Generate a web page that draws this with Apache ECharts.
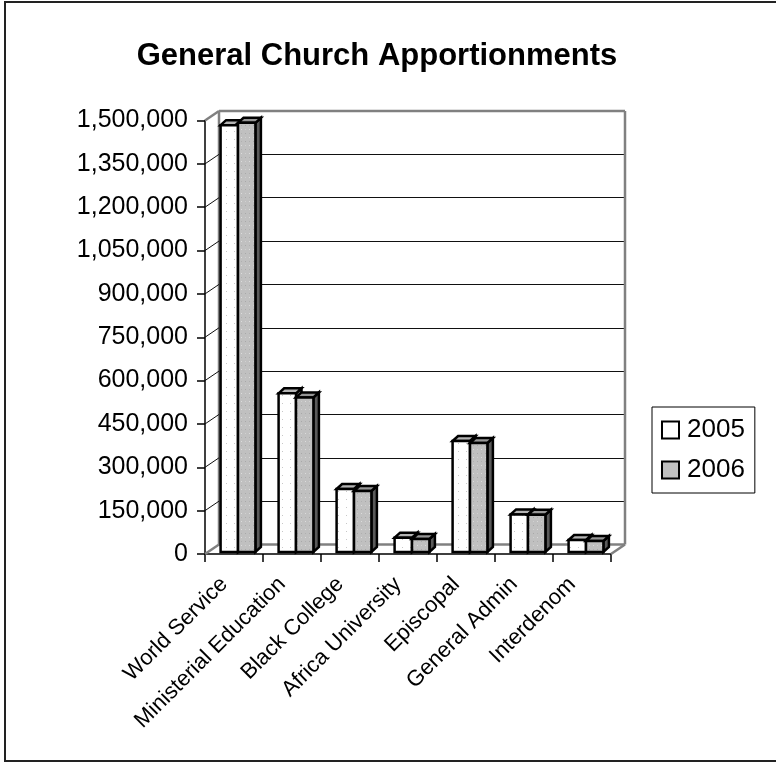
<!DOCTYPE html>
<html>
<head>
<meta charset="utf-8">
<script src="https://cdn.jsdelivr.net/npm/echarts@6/dist/echarts.min.js"></script>
<style>html,body{margin:0;padding:0;background:#fff}#c{width:776px;height:763px}</style>
</head>
<body>
<div id="c"></div>
<script>
// ---- data ----
const categories = ['World Service', 'Ministerial Education', 'Black College', 'Africa University', 'Episcopal', 'General Admin', 'Interdenom'];
const seriesNames = ['2005', '2006'];
const values2005 = [1477000, 549000, 218000, 49500, 384000, 130000, 41500];
const values2006 = [1485000, 535000, 211000, 45000, 377000, 129000, 38000];
const yMin = 0, yMax = 1500000, yStep = 150000;
const titleText = 'General Church Apportionments';

// ---- layout ----
const FONT = "'Liberation Sans', Arial, sans-serif";
const FRONT = { left: 205, top: 120.5, width: 406, height: 433.5 };
const DEPTH = { dx: 14, dy: -9.5 };
const BAR = { frac: 0.3, shiftX: 4, shiftY: -2, dx: 5.5, dy: -5 };

function makePattern(bg, dots) {
  const c = document.createElement('canvas');
  c.width = 8; c.height = 8;
  const ctx = c.getContext('2d');
  ctx.fillStyle = bg; ctx.fillRect(0, 0, 8, 8);
  dots.forEach(d => { ctx.fillStyle = d[2]; ctx.fillRect(d[0], d[1], 1, 1); });
  return { image: c, repeat: 'repeat' };
}
const fill2005 = makePattern('#ffffff', [[2, 3, '#c8c8c8']]);
const fill2006 = makePattern('#c0c0c0', [[1, 1, '#dcdcdc'], [5, 5, '#a8a8a8'], [5, 1, '#d0d0d0'], [1, 5, '#b0b0b0']]);
const styles = [
  { front: fill2005, top: '#b4b4b4', side: '#8c8c8c', legendColor: '#ffffff' },
  { front: fill2006, top: '#969696', side: '#5a5a5a', legendColor: '#c0c0c0' }
];

function fmt(v) { return String(v).replace(/\B(?=(\d{3})+(?!\d))/g, ','); }

function makeRender(si) {
  return function (params, api) {
    const ci = api.value(0), v = api.value(1);
    const base = api.coord([ci, 0]);
    const top = api.coord([ci, v]);
    const bw = api.size([1, 0])[0] * BAR.frac;
    const x0 = base[0] + BAR.shiftX + (si === 0 ? -bw : 0);
    const yb = base[1] + BAR.shiftY, yt = top[1] + BAR.shiftY;
    const st = styles[si];
    const line = { stroke: '#000', lineWidth: 2.5, lineJoin: 'miter' };
    return {
      type: 'group',
      children: [
        { type: 'polygon', shape: { points: [[x0 + bw, yt], [x0 + bw + BAR.dx, yt + BAR.dy], [x0 + bw + BAR.dx, yb + BAR.dy], [x0 + bw, yb]] }, style: Object.assign({ fill: st.side }, line) },
        { type: 'polygon', shape: { points: [[x0, yt], [x0 + BAR.dx, yt + BAR.dy], [x0 + bw + BAR.dx, yt + BAR.dy], [x0 + bw, yt]] }, style: Object.assign({ fill: st.top }, line) },
        { type: 'rect', shape: { x: x0, y: yt, width: bw, height: yb - yt }, style: Object.assign({ fill: st.front }, line) }
      ]
    };
  };
}

const chart = echarts.init(document.getElementById('c'), null, { renderer: 'canvas' });
const allValues = [values2005, values2006];

const option = {
  animation: false,
  backgroundColor: '#fff',
  title: {
    text: titleText, left: 372, top: 36, textAlign: 'center',
    textStyle: { fontFamily: FONT, fontSize: 31, fontWeight: 'bold', color: '#000' }
  },
  legend: {
    orient: 'vertical', left: 652, top: 407,
    padding: [10, 10, 10, 9], itemGap: 14,
    itemWidth: 17, itemHeight: 17, icon: 'rect',
    borderColor: '#000', borderWidth: 1,
    textStyle: { fontFamily: FONT, fontSize: 26, color: '#000', padding: [0, 0, 0, 3] },
    data: seriesNames.map((n, i) => ({ name: n, itemStyle: { color: styles[i].legendColor, borderColor: '#000', borderWidth: 2 } }))
  },
  grid: [
    { left: FRONT.left, top: FRONT.top, width: FRONT.width, height: FRONT.height },
    { left: FRONT.left + DEPTH.dx, top: FRONT.top + DEPTH.dy, width: FRONT.width, height: FRONT.height }
  ],
  xAxis: [
    {
      type: 'category', gridIndex: 0, data: categories,
      axisLine: { lineStyle: { color: '#000', width: 1.5 } },
      axisTick: { show: true, length: 8, lineStyle: { color: '#000', width: 1.5 } },
      axisLabel: { interval: 0, rotate: 45, margin: 17, padding: [0, 14, 0, 0], fontFamily: FONT, fontSize: 22, color: '#000' }
    },
    { type: 'category', gridIndex: 1, data: categories, show: false }
  ],
  yAxis: [
    {
      type: 'value', gridIndex: 0, min: yMin, max: yMax, interval: yStep,
      axisLine: { show: true, lineStyle: { color: '#000', width: 1.5 } },
      axisTick: { show: true, length: 8, lineStyle: { color: '#000', width: 1.5 } },
      splitLine: { show: false },
      axisLabel: { margin: 17, fontFamily: FONT, fontSize: 25, color: '#000', formatter: fmt }
    },
    {
      type: 'value', gridIndex: 1, min: yMin, max: yMax, interval: yStep,
      axisLine: { show: false }, axisTick: { show: false }, axisLabel: { show: false },
      splitLine: { show: true, lineStyle: { color: '#111', width: 1 } }
    }
  ],
  series: seriesNames.map((n, i) => ({
    name: n, type: 'custom', xAxisIndex: 0, yAxisIndex: 0, z: 5,
    itemStyle: { color: styles[i].legendColor },
    renderItem: makeRender(i),
    encode: { x: 0, y: 1 },
    data: allValues[i].map((v, ci) => [ci, v])
  }))
};
chart.setOption(option);

// wall / floor edges derived from the axes
const yTop = chart.convertToPixel({ yAxisIndex: 0 }, yMax);
const yBot = chart.convertToPixel({ yAxisIndex: 0 }, yMin);
const xL = FRONT.left, xR = FRONT.left + FRONT.width;
const grey = { stroke: '#808080', lineWidth: 2.5 };
const els = [];
function ln(x1, y1, x2, y2, style, z) { els.push({ type: 'line', z: z || 1, silent: true, shape: { x1, y1, x2, y2 }, style }); }
// back wall edges
ln(xL + DEPTH.dx, yTop + DEPTH.dy, xR + DEPTH.dx, yTop + DEPTH.dy, grey);
ln(xR + DEPTH.dx, yTop + DEPTH.dy, xR + DEPTH.dx, yBot + DEPTH.dy, grey);
ln(xL + DEPTH.dx, yTop + DEPTH.dy, xL + DEPTH.dx, yBot + DEPTH.dy, grey);
// floor
ln(xL + DEPTH.dx, yBot + DEPTH.dy, xR + DEPTH.dx, yBot + DEPTH.dy, grey);
ln(xR, yBot, xR + DEPTH.dx, yBot + DEPTH.dy, grey);
// left wall diagonals
for (let v = yMin; v <= yMax; v += yStep) {
  const y = chart.convertToPixel({ yAxisIndex: 0 }, v);
  const edge = (v === yMin || v === yMax);
  ln(xL, y, xL + DEPTH.dx, y + DEPTH.dy, edge ? grey : { stroke: '#111', lineWidth: 1 });
}
// outer frame
els.push({ type: 'rect', z: 0, silent: true, shape: { x: 5, y: 2, width: 800, height: 759 }, style: { fill: 'none', stroke: '#222', lineWidth: 2 } });
chart.setOption({ graphic: { elements: els } });
</script>
</body>
</html>
